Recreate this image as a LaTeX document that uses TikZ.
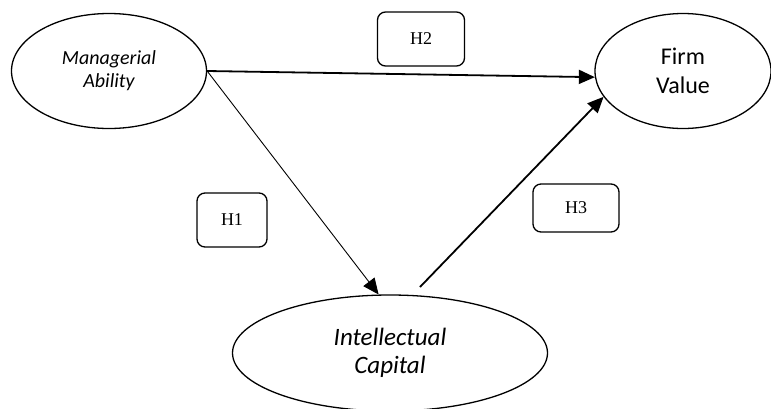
\documentclass[tikz,border=0pt]{standalone}
\usepackage{fontspec}
\setmainfont{Liberation Serif}
\newfontfamily\calibri{Carlito}
\usepackage{tikz}
\usetikzlibrary{arrows.meta,shapes}

\tikzset{
  construct/.style={ellipse,draw,line width=1.3pt,inner sep=0pt,align=center},
  hypbox/.style={rectangle,rounded corners=8pt,draw,line width=1.3pt,inner sep=0pt,font=\fontsize{18}{20}\selectfont},
}

\begin{document}
\begin{tikzpicture}[x=1pt,y=-1pt,>={Triangle[length=16pt,width=14pt]}]
  \useasboundingbox (0,0) rectangle (771,408);
  \node[construct,minimum width=195pt,minimum height=115pt,font=\calibri\itshape\fontsize{20}{23}\selectfont] (ability) at (109,71) {Managerial\\Ability};
  \node[construct,minimum width=176pt,minimum height=115pt,font=\calibri\fontsize{24}{29}\selectfont] (value) at (683,71) {Firm\\Value};
  \node[construct,minimum width=315pt,minimum height=116pt,font=\calibri\itshape\fontsize{25}{28}\selectfont] (capital) at (390,353) {Intellectual\\Capital};

  % Hypothesis labels
  \node[hypbox,minimum width=87pt,minimum height=54pt] (h2) at (421,39) {H2};
  \node[hypbox,minimum width=70pt,minimum height=54pt] (h1) at (232,220) {H1};
  \node[hypbox,minimum width=86pt,minimum height=48pt] (h3) at (576,208) {H3};
  \coordinate (h3start) at (420,287);

  % Paths
  \draw[->,line width=1.8pt] (ability.east) -- (value.184);
  \draw[->,line width=0.9pt] (ability.east) -- (capital.101);
  \draw[->,line width=1.8pt] (h3start) -- (value.198);
\end{tikzpicture}
\end{document}
